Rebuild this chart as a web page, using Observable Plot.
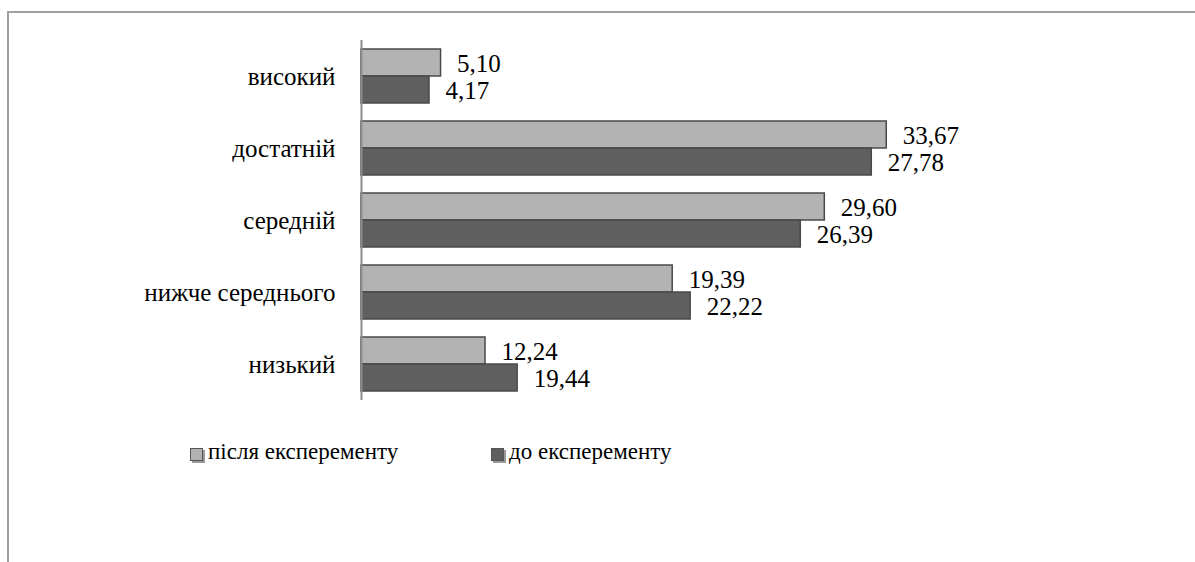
<!DOCTYPE html>
<html>
<head>
<meta charset="utf-8">
<script src="https://cdn.jsdelivr.net/npm/d3@7"></script>
<script src="https://cdn.jsdelivr.net/npm/@observablehq/plot@0.6"></script>
<style>
  html, body { margin: 0; padding: 0; background: #fff; }
  #wrap { position: relative; width: 1195px; height: 562px; overflow: hidden; font-family: "Liberation Serif", "Times New Roman", Tinos, "DejaVu Serif", "Noto Serif", serif; }
  #frame { position: absolute; left: 7px; top: 11px; width: 1200px; height: 600px; border-top: 2px solid #a0a0a0; border-left: 2px solid #a0a0a0; box-sizing: border-box; }
  #chart { position: absolute; left: 0; top: 0; }
  #chart svg text { font-family: "Liberation Serif", "Times New Roman", Tinos, "DejaVu Serif", "Noto Serif", serif; }
  #legend { position: absolute; top: 439px; left: 0; width: 1195px; height: 30px; font-size: 23px; color: #000; }
  .item { position: absolute; top: 0; display: flex; align-items: center; white-space: nowrap; }
  .sw { width: 11px; height: 11px; border: 1px solid #555; box-shadow: 2px 2px 0 #999; margin-right: 5px; margin-top: 4px; }
</style>
</head>
<body>
<div id="wrap">
  <div id="frame"></div>
  <div id="chart"></div>
  <div id="legend"></div>
</div>
<script>
// Categories (top to bottom)
const categories = ["високий", "достатній", "середній", "нижче середнього", "низький"];
// Series names
const seriesNames = ["після експеременту", "до експеременту"];
// Bar lengths as drawn in the picture (same order as categories)
const afterBars  = [5.10, 33.67, 29.70, 19.95, 7.95];
const beforeBars = [4.36, 32.71, 28.16, 21.10, 10.01];
// Printed data labels
const afterLabels  = ["5,10", "33,67", "29,60", "19,39", "12,24"];
const beforeLabels = ["4,17", "27,78", "26,39", "22,22", "19,44"];
const seriesColors = ["#b3b3b3", "#5f5f5f"];

const rows = [];
categories.forEach((c, i) => {
  rows.push({cat: c, series: seriesNames[0], v: afterBars[i], label: afterLabels[i]});
  rows.push({cat: c, series: seriesNames[1], v: beforeBars[i], label: beforeLabels[i]});
});

const serif = "'Liberation Serif', 'Times New Roman', Tinos, 'DejaVu Serif', 'Noto Serif', serif";

const chart = Plot.plot({
  width: 1195,
  height: 562,
  marginLeft: 361,
  marginRight: 210,
  marginTop: 40,
  marginBottom: 162,
  style: {fontFamily: serif, fontSize: "25px", color: "#000", background: "transparent"},
  x: {domain: [0, 40], axis: null},
  fy: {domain: categories, padding: 0, label: null, axis: "left", tickSize: 0, tickPadding: 26},
  y: {domain: seriesNames, axis: null, paddingInner: 0, paddingOuter: 0.3},
  color: {domain: seriesNames, range: seriesColors},
  marks: [
    Plot.barX(rows, {fy: "cat", y: "series", x: "v", fill: "series", stroke: "#4a4a4a", strokeWidth: 1.5}),
    Plot.text(rows, {fy: "cat", y: "series", x: "v", text: "label", textAnchor: "start", dx: 16, dy: 1, fontSize: 25, fill: "#000"}),
    Plot.ruleX([0], {stroke: "#8c8c8c", strokeWidth: 2})
  ]
});
document.getElementById("chart").appendChild(chart);

// Legend
const legend = document.getElementById("legend");
const legendX = [190, 491];
seriesNames.forEach((s, i) => {
  const it = document.createElement("div");
  it.className = "item";
  it.style.left = legendX[i] + "px";
  const sw = document.createElement("div");
  sw.className = "sw";
  sw.style.background = seriesColors[i];
  const tx = document.createElement("span");
  tx.textContent = s;
  it.appendChild(sw);
  it.appendChild(tx);
  legend.appendChild(it);
});
</script>
</body>
</html>
